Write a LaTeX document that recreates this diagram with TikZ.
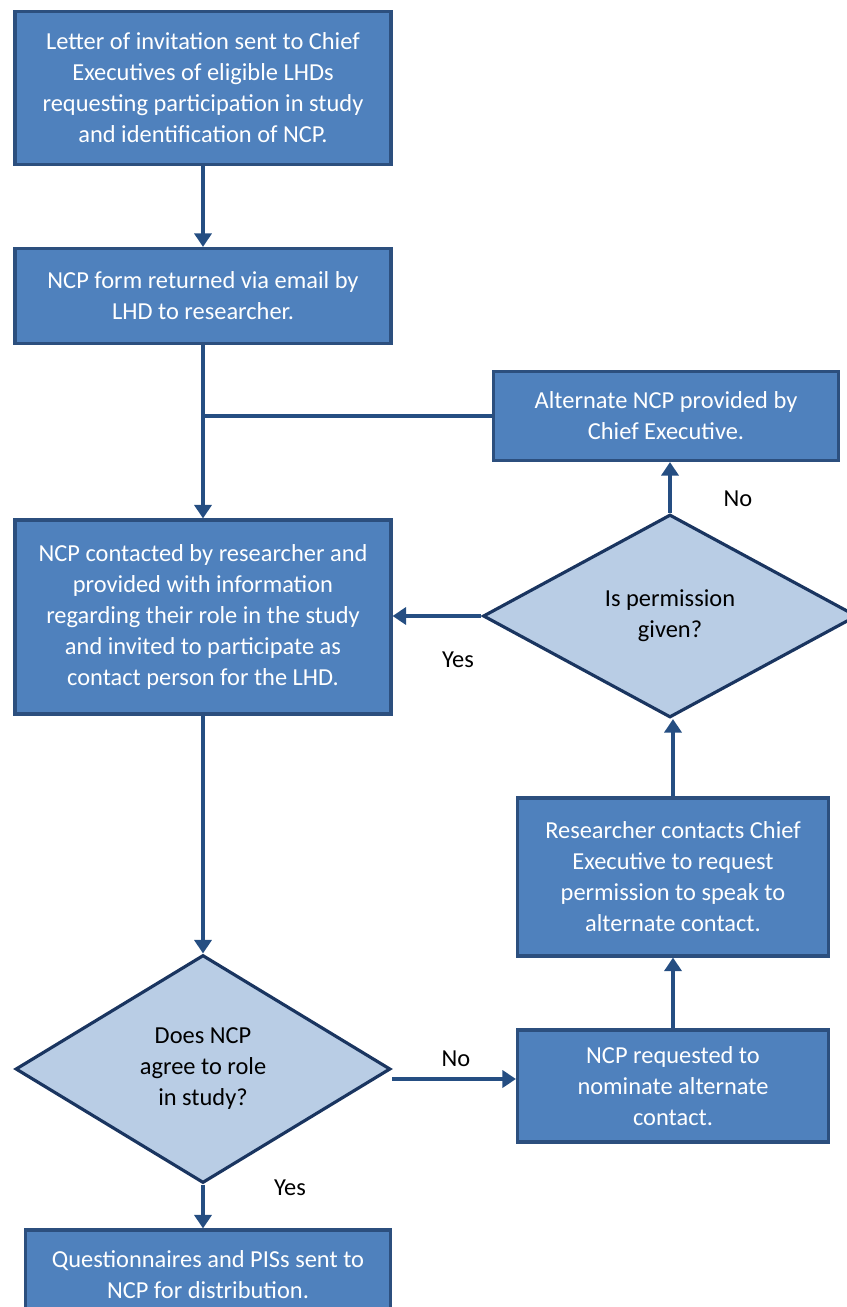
\documentclass[tikz,border=0pt]{standalone}
\usepackage{fontspec}
\setmainfont{Carlito}
\usetikzlibrary{arrows.meta,positioning,shapes.geometric}
\definecolor{boxfill}{HTML}{4F81BD}
\definecolor{boxedge}{HTML}{2C4F7E}
\definecolor{diafill}{HTML}{B9CDE5}
\definecolor{diaedge}{HTML}{1A3560}
\definecolor{flow}{HTML}{254E82}
\tikzset{
  block/.style={draw=boxedge, fill=boxfill, line width=1.8pt, align=center,
                text=white, inner sep=0pt, font=\fontsize{13.9}{17.65}\selectfont},
  decision/.style={diamond, draw=diaedge, fill=diafill, line width=1.8pt,
                   align=center, inner sep=0pt, font=\fontsize{13.9}{17.65}\selectfont},
  arrow/.style={-{Triangle[length=0.27cm,width=0.34cm]}, line width=2.2pt, draw=flow},
  link/.style={line width=2.2pt, draw=flow},
  answer/.style={font=\fontsize{13.9}{17.65}\selectfont, text=black, inner sep=0pt}
}

\begin{document}
\begin{tikzpicture}[x=0.02cm,y=-0.02cm]
        \useasboundingbox (0,0) rectangle (847,1307);
        \clip (0,0) rectangle (847,1307);

        % left column
        \node[block,minimum width=7.52cm,minimum height=3.06cm] (invite) at (203,88)
          {Letter of invitation sent to Chief\\Executives of eligible LHDs\\requesting participation in study\\and identification of NCP.};
        \node[block,minimum width=7.52cm,minimum height=1.9cm] (form) at (203,296)
          {NCP form returned via email by\\LHD to researcher.};
        \node[block,minimum width=7.52cm,minimum height=3.88cm] (contact) at (203,617)
          {NCP contacted by researcher and\\provided with information\\regarding their role in the study\\and invited to participate as\\contact person for the LHD.};
        \node[decision,aspect=1.64,minimum width=7.5cm,minimum height=4.56cm] (agree) at (203,1069)
          {Does NCP\\agree to role\\in study?};
        \node[block,minimum width=7.3cm,minimum height=1.8cm] (send) at (208,1275)
          {Questionnaires and PISs sent to\\NCP for distribution.};

        % right column
        \node[block,minimum width=6.9cm,minimum height=1.78cm] (alt) at (666,416)
          {Alternate NCP provided by\\Chief Executive.};
        \node[decision,aspect=1.84,minimum width=7.48cm,minimum height=4.06cm] (permit) at (670,616)
          {Is permission\\given?};
        \node[block,minimum width=6.22cm,minimum height=3.16cm] (ask) at (673,877)
          {Researcher contacts Chief\\Executive to request\\permission to speak to\\alternate contact.};
        \node[block,minimum width=6.22cm,minimum height=2.24cm] (nominate) at (673,1086)
          {NCP requested to\\nominate alternate\\contact.};

        % connectors
        \draw[arrow] (invite.south) -- (form.north);
        \draw[arrow] (form.south) -- (contact.north);
        \draw[link] (alt.west) -- (alt.west -| form.south);
        \draw[arrow] (contact.south) -- (agree.north);
        \draw[arrow] (agree.south) -- (send.north -| agree.south);
        \draw[arrow] ([yshift=-0.2cm]agree.east) -- ([yshift=-0.2cm]agree.east -| nominate.west);
        \draw[arrow] (nominate.north) -- (ask.south);
        \draw[arrow] (ask.north) -- (permit.south -| ask.north);
        \draw[arrow] (permit.north) -- (alt.south -| permit.north);
        \draw[arrow] (permit.west) -- (permit.west -| contact.east);

        % answers
        \node[answer] (yes1) at (458,660) {Yes};
        \node[answer] (no1) at (738,499) {No};
        \node[answer] (no2) at (456,1059) {No};
        \node[answer] (yes2) at (290,1188) {Yes};
      \end{tikzpicture}
\end{document}
